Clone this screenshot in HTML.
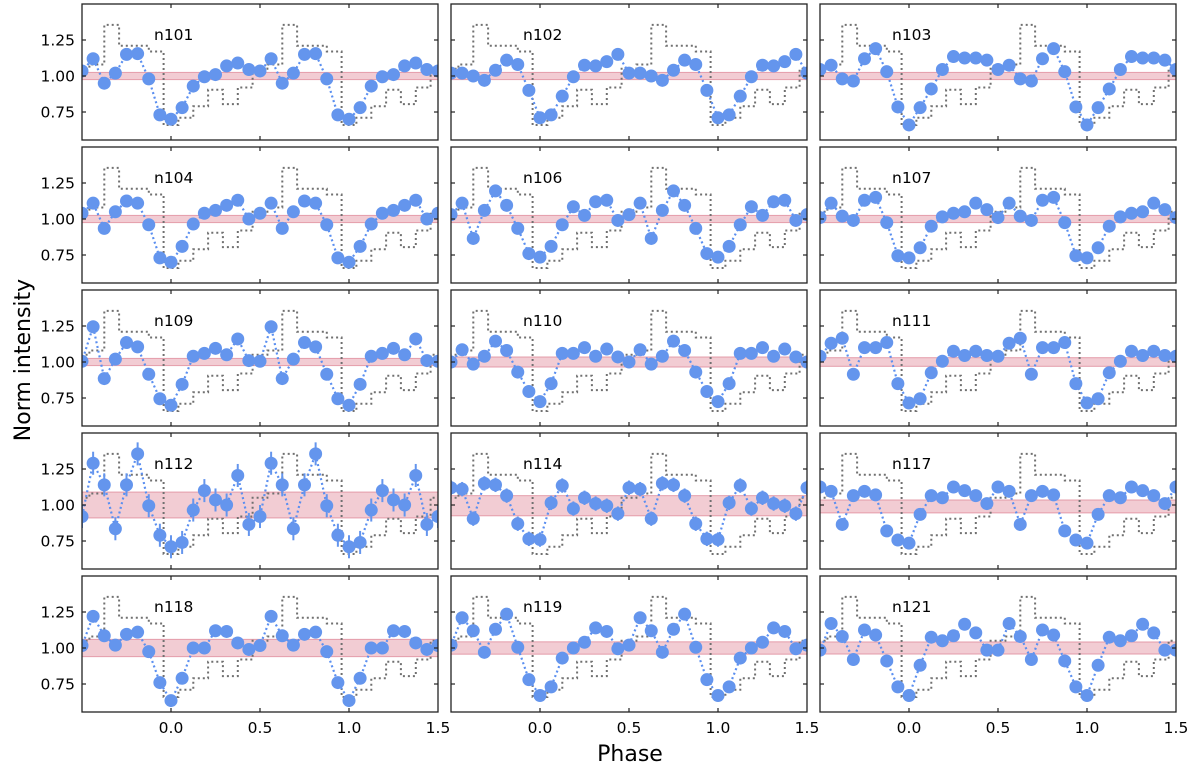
<!DOCTYPE html>
<html><head><meta charset="utf-8"><title>Norm intensity vs phase</title>
<style>
html,body{margin:0;padding:0;background:#fff;}
svg{display:block;font-family:"DejaVu Sans","Liberation Sans",sans-serif;}
</style></head>
<body>
<svg id="chart" width="1200" height="772" viewBox="0 0 1200 772" xmlns="http://www.w3.org/2000/svg">
<defs id="defs"></defs>
<text x="0" y="0" transform="translate(30,360) rotate(-90)" text-anchor="middle" font-size="22" fill="#000">Norm intensity</text>
<text x="630" y="761" text-anchor="middle" font-size="22" fill="#000">Phase</text>
</svg>
<script>
// ---- data ----
const panelNames = ["n101","n102","n103","n104","n106","n107","n109","n110","n111","n112","n114","n117","n118","n119","n121"];
// values at phase k/16, k = 0..15
const n101 = [0.70,0.78,0.93,0.995,1.01,1.07,1.09,1.045,1.035,1.12,0.95,1.02,1.15,1.155,0.98,0.73];
const n102 = [0.71,0.73,0.86,0.995,1.075,1.07,1.10,1.15,1.02,1.02,1.00,0.97,1.04,1.11,1.08,0.90];
const n103 = [0.66,0.78,0.91,1.045,1.135,1.125,1.125,1.11,1.045,1.075,0.98,0.965,1.12,1.19,1.03,0.785];
const n104 = [0.70,0.81,0.965,1.04,1.06,1.095,1.13,1.00,1.04,1.11,0.935,1.05,1.125,1.11,0.96,0.73];
const n106 = [0.735,0.81,0.96,1.085,1.025,1.12,1.13,0.99,1.03,1.11,0.865,1.06,1.195,1.095,0.935,0.76];
const n107 = [0.73,0.80,0.95,1.015,1.04,1.05,1.11,1.065,1.01,1.11,1.02,0.99,1.13,1.15,0.975,0.745];
const n109 = [0.70,0.845,1.04,1.06,1.095,1.05,1.16,1.01,1.005,1.245,0.885,1.02,1.135,1.105,0.915,0.745];
const n110 = [0.725,0.85,1.06,1.06,1.10,1.04,1.09,1.035,1.00,1.085,0.985,1.04,1.145,1.08,0.93,0.795];
const n111 = [0.715,0.745,0.925,1.005,1.075,1.045,1.075,1.045,1.04,1.13,1.165,0.915,1.10,1.10,1.135,0.85];
const n112 = [0.71,0.74,0.965,1.10,1.035,1.00,1.205,0.865,0.92,1.29,1.14,0.835,1.14,1.355,0.995,0.79];
const n114 = [0.76,1.015,1.135,0.975,1.05,1.01,0.995,0.94,1.12,1.11,0.905,1.15,1.14,1.065,0.87,0.765];
const n117 = [0.735,0.935,1.065,1.05,1.125,1.10,1.065,1.01,1.125,1.095,0.865,1.065,1.095,1.07,0.82,0.757];
const n118 = [0.635,0.79,1.00,1.00,1.12,1.115,1.035,0.99,1.017,1.22,1.085,1.02,1.095,1.11,0.975,0.76];
const n119 = [0.67,0.73,0.93,1.00,1.04,1.14,1.115,0.995,1.02,1.21,1.12,0.97,1.13,1.235,1.005,0.78];
const n121 = [0.67,0.88,1.075,1.05,1.085,1.165,1.105,0.985,0.985,1.17,1.08,0.92,1.125,1.09,0.91,0.73];
const seriesValues = [n101,n102,n103,n104,n106,n107,n109,n110,n111,n112,n114,n117,n118,n119,n121];
const errHalf = [0.01,0.01,0.01,0.01,0.01,0.01,0.01,0.012,0.012,0.08,0.05,0.02,0.04,0.02,0.015];
const bandHalf = [0.025,0.025,0.025,0.025,0.025,0.025,0.025,0.035,0.03,0.09,0.07,0.045,0.06,0.043,0.042];
const bandCenter = [1.0,1.0,1.0,1.0,1.0,1.0,1.0,1.0,1.0,1.0,0.995,0.99,1.0,1.0,1.0];
// grey template step levels, 12 bins centred at k/12
const templateLevels = [0.66,0.71,0.79,0.905,0.805,0.92,1.05,1.08,1.355,1.21,1.21,1.17];
const xTicks = [0.0,0.5,1.0,1.5];
const xTickLabels = ["0.0","0.5","1.0","1.5"];
const yTicks = [0.75,1.00,1.25];
const yTickLabels = ["0.75","1.00","1.25"];

// ---- layout ----
const NS = "http://www.w3.org/2000/svg";
const svg = document.getElementById('chart');
const defs = document.getElementById('defs');
const colX = [82,451,820], rowY = [4,147,290,433,576];
const PW = 356, PH = 136, XMIN = -0.5, XMAX = 1.5, YMIN = 0.5556, YMAX = 1.5;
function mk(tag, attrs, parent){ const e = document.createElementNS(NS, tag); for (const k in attrs) e.setAttribute(k, attrs[k]); (parent||svg).appendChild(e); return e; }

seriesValues.forEach((vals, idx) => {
  const col = idx % 3, row = Math.floor(idx / 3);
  const x0 = colX[col], y0 = rowY[row];
  const xs = p => x0 + (p - XMIN) / (XMAX - XMIN) * PW;
  const ys = v => y0 + (YMAX - v) / (YMAX - YMIN) * PH;
  const cp = mk('clipPath', {id: 'clip' + idx}, defs);
  mk('rect', {x: x0, y: y0, width: PW, height: PH}, cp);

  const g = mk('g', {});
  
  
  const inner = mk('g', {'clip-path': 'url(#clip' + idx + ')'}, g);

  // band
  const c = bandCenter[idx], h = bandHalf[idx];
  const band = mk('rect', {x: x0, y: ys(c + h), width: PW, height: ys(c - h) - ys(c + h), fill: 'rgba(220,120,140,0.38)', stroke: 'rgba(215,110,130,0.6)', 'stroke-width': 1}, inner);
  
  

  // template steps
  let d = '';
  for (let m = -1; m <= 2; m++) {
    templateLevels.forEach((lv, i) => {
      const a = m + (i - 0.5) / 12, b = m + (i + 0.5) / 12;
      d += (d ? 'L' : 'M') + xs(a).toFixed(1) + ',' + ys(lv).toFixed(1) + 'L' + xs(b).toFixed(1) + ',' + ys(lv).toFixed(1);
    });
  }
  const tp = mk('path', {d: d, fill: 'none', stroke: '#707070', 'stroke-width': 2, 'stroke-dasharray': '2 3'}, inner);
  
  

  // points
  const pts = [];
  for (let m = -1; m <= 2; m++) vals.forEach((v, k) => { const p = m + k / 16; if (p >= -0.57 && p <= 1.57) pts.push([p, v]); });
  const ld = pts.map((q, i) => (i ? 'L' : 'M') + xs(q[0]).toFixed(1) + ',' + ys(q[1]).toFixed(1)).join('');
  const bl = mk('path', {d: ld, fill: 'none', stroke: '#5b8ff0', 'stroke-width': 2.2, 'stroke-dasharray': '2 2.8'}, inner);
  
  
  const e = errHalf[idx];
  pts.forEach(q => {
    if (e > 0.015) {
      const eb = mk('line', {x1: xs(q[0]), x2: xs(q[0]), y1: ys(q[1] + e), y2: ys(q[1] - e), stroke: '#6495ed', 'stroke-width': 2}, inner);
      
      
    }
    const ci = mk('circle', {cx: xs(q[0]), cy: ys(q[1]), r: 6.5, fill: '#6495ed'}, inner);
    
    
  });

  // label
  const lb = mk('text', {x: x0 + 72, y: y0 + 36, 'font-size': 15.5, fill: '#000'}, g);
  lb.textContent = panelNames[idx];
  
  

  // frame
  const fr = mk('rect', {x: x0, y: y0, width: PW, height: PH, fill: 'none', stroke: '#222', 'stroke-width': 1.3}, g);
  
  

  // ticks
  [0.0, 0.5, 1.0].forEach(t => {
    mk('line', {x1: xs(t), x2: xs(t), y1: y0 + PH, y2: y0 + PH - 4, stroke: '#222', 'stroke-width': 1.2}, g);
    mk('line', {x1: xs(t), x2: xs(t), y1: y0, y2: y0 + 4, stroke: '#222', 'stroke-width': 1.2}, g);
  });
  yTicks.forEach(t => {
    mk('line', {x1: x0, x2: x0 + 4, y1: ys(t), y2: ys(t), stroke: '#222', 'stroke-width': 1.2}, g);
    mk('line', {x1: x0 + PW, x2: x0 + PW - 4, y1: ys(t), y2: ys(t), stroke: '#222', 'stroke-width': 1.2}, g);
  });
  if (col === 0) {
    yTicks.forEach((t, i) => {
      const tl = mk('text', {x: x0 - 7, y: ys(t) + 5.5, 'text-anchor': 'end', 'font-size': 15.5, fill: '#000'}, g);
      tl.textContent = yTickLabels[i];
      
      
    });
  }
  if (row === 4) {
    xTicks.forEach((t, i) => {
      const tl = mk('text', {x: xs(t), y: y0 + PH + 21, 'text-anchor': 'middle', 'font-size': 15.5, fill: '#000'}, g);
      tl.textContent = xTickLabels[i];
      
      
    });
  }
});
</script>
</body></html>
